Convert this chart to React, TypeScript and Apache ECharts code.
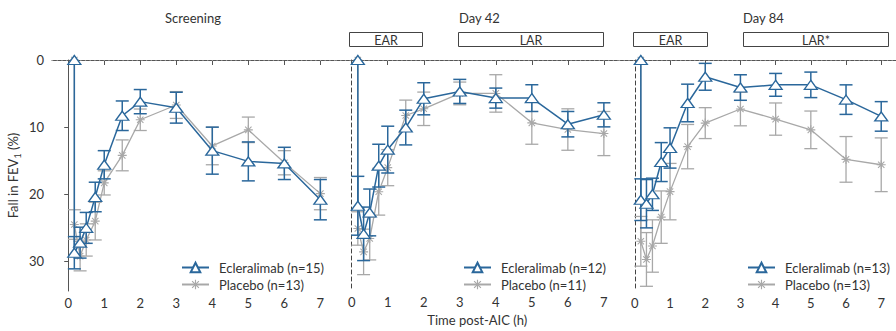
import React, { useEffect, useRef } from 'react';
import * as echarts from 'echarts';

// ---- data ----
const times = [0.17, 0.17, 0.33, 0.5, 0.75, 1, 1.5, 2, 3, 4, 5, 6, 7];
const xTickValues = [0, 1, 2, 3, 4, 5, 6, 7];
const yTickValues = [0, 10, 20, 30];

const panelTitles = ['Screening', 'Day 42', 'Day 84'];
const eclNames = ['Ecleralimab (n=15)', 'Ecleralimab (n=12)', 'Ecleralimab (n=13)'];
const plaNames = ['Placebo (n=13)', 'Placebo (n=11)', 'Placebo (n=13)'];

const eclScreening = [0, 28.7, 27.2, 25.0, 20.4, 15.6, 8.3, 6.2, 7.1, 13.5, 15.1, 15.4, 20.8];
const eclScreeningSE = [null, 2.4, 2.3, 2.3, 2.2, 2.1, 2.2, 1.8, 2.3, 3.5, 2.9, 2.4, 3.0];
const plaScreening = [0, 24.5, 29.2, 26.8, 24.0, 18.3, 14.2, 8.9, 6.7, 12.8, 10.4, 15.3, 19.9];
const plaScreeningSE = [null, 2.2, 2.2, 2.4, 2.8, 1.8, 2.3, 1.6, 2.0, 2.8, 1.9, 1.8, 2.4];

const eclDay42 = [0, 21.8, 26.0, 22.8, 15.8, 13.4, 10.1, 5.8, 4.7, 5.7, 5.7, 9.6, 8.2];
const eclDay42SE = [null, 4.4, 4.0, 3.5, 3.2, 3.5, 2.6, 2.4, 1.8, 1.5, 2.0, 1.9, 1.8];
const plaDay42 = [0, 25.2, 28.7, 26.7, 19.7, 16.1, 8.3, 7.3, 5.0, 5.0, 9.4, 10.4, 11.0];
const plaDay42SE = [null, 2.5, 3.4, 3.2, 3.5, 2.7, 2.3, 2.5, 1.7, 2.8, 3.2, 3.1, 3.3];

const eclDay84 = [0, 20.8, 21.4, 20.0, 15.2, 13.1, 6.4, 2.5, 4.1, 3.7, 3.7, 5.9, 8.4];
const eclDay84SE = [null, 3.1, 3.6, 2.4, 2.9, 3.0, 2.8, 2.0, 1.9, 1.7, 1.9, 2.2, 2.2];
const plaDay84 = [0, 27.0, 29.7, 27.7, 23.4, 19.6, 12.9, 9.4, 7.3, 8.8, 10.4, 14.8, 15.6];
const plaDay84SE = [null, 3.7, 4.0, 3.9, 3.9, 4.2, 3.3, 2.3, 2.5, 2.4, 2.8, 3.4, 4.0];

const phaseLabels = ['EAR', 'LAR', 'EAR', 'LAR*'];

// ---- styling ----
const BLUE = '#2a679b';
const GREY = '#a8a8a8';
const AXIS = '#555';
const TEXT = '#333';
const FONT = 'Lato';

const eclAll = [eclScreening, eclDay42, eclDay84];
const eclSEAll = [eclScreeningSE, eclDay42SE, eclDay84SE];
const plaAll = [plaScreening, plaDay42, plaDay84];
const plaSEAll = [plaScreeningSE, plaDay42SE, plaDay84SE];

const ASTERISK =
  'path://M-0.6,-5L0.6,-5L0.6,5L-0.6,5Z' +
  'M-5,-0.6L5,-0.6L5,0.6L-5,0.6Z' +
  'M-3.12,-3.96L3.96,3.12L3.12,3.96L-3.96,-3.12Z' +
  'M-3.96,3.12L3.12,-3.96L3.96,-3.12L-3.12,3.96Z';

const PANEL_W = 283.5;
const PANEL_LEFT = 52;

function errorSeries(i: number, vals: number[], se: (number | null)[], color: string, width: number, z: number) {
  const data: number[][] = [];
  vals.forEach((v, k) => {
    const e = se[k];
    if (e != null) data.push([times[k], v - e, v + e]);
  });
  return {
    type: 'custom',
    xAxisIndex: i,
    yAxisIndex: i,
    z,
    silent: true,
    encode: { x: 0, y: [1, 2] },
    data,
    renderItem: (_p: any, api: any) => {
      const x = api.value(0);
      const a = api.coord([x, api.value(1)]);
      const b = api.coord([x, api.value(2)]);
      const w = 6.5;
      const style = { stroke: color, lineWidth: width, fill: 'none' };
      return {
        type: 'group',
        children: [
          { type: 'line', shape: { x1: a[0], y1: a[1], x2: b[0], y2: b[1] }, style },
          { type: 'line', shape: { x1: a[0] - w, y1: a[1], x2: a[0] + w, y2: a[1] }, style },
          { type: 'line', shape: { x1: b[0] - w, y1: b[1], x2: b[0] + w, y2: b[1] }, style },
        ],
      };
    },
  };
}

function buildOption() {
  const grid = [0, 1, 2].map((i) => ({
    left: PANEL_LEFT + i * PANEL_W,
    width: PANEL_W,
    top: 60,
    bottom: 40,
  }));

  const xAxis = [0, 1, 2].map((i) => ({
    type: 'value',
    gridIndex: i,
    min: -0.45,
    max: 7.42,
    splitLine: { show: false },
    axisLine: { show: true, lineStyle: { color: AXIS, width: 1 } },
    axisTick: { show: true, customValues: xTickValues, length: 5, lineStyle: { color: AXIS } },
    axisLabel: { customValues: xTickValues, margin: 5, fontSize: 13, color: TEXT, fontFamily: FONT },
    name: i === 1 ? 'Time post-AIC (h)' : '',
    nameLocation: 'middle',
    nameGap: 23,
    nameTextStyle: { fontSize: 13, color: TEXT, fontFamily: FONT },
  }));

  const yAxis = [0, 1, 2].map((i) => ({
    type: 'value',
    gridIndex: i,
    inverse: true,
    min: 0,
    max: 34.4,
    splitLine: { show: false },
    axisLine: {
      show: true,
      lineStyle: { color: i === 0 ? AXIS : '#444', width: 1, type: i === 0 ? 'solid' : [4, 3] },
    },
    axisTick: { show: i === 0, customValues: yTickValues, length: 4, lineStyle: { color: AXIS } },
    axisLabel: {
      show: i === 0,
      customValues: yTickValues,
      margin: 8,
      fontSize: 13,
      color: TEXT,
      fontFamily: FONT,
    },
    name: i === 0 ? '{a|Fall in FEV}{s|1}{a| (%)}' : '',
    nameLocation: 'middle',
    nameGap: 30,
    nameRotate: 90,
    nameTextStyle: {
      color: TEXT,
      fontFamily: FONT,
      fontSize: 13,
      rich: {
        a: { fontSize: 13, color: TEXT, fontFamily: FONT, lineHeight: 18, verticalAlign: 'middle' },
        s: { fontSize: 9, color: TEXT, fontFamily: FONT, lineHeight: 9, verticalAlign: 'bottom' },
      },
    },
  }));

  const series: any[] = [];
  for (let i = 0; i < 3; i++) {
    series.push({
      type: 'line',
      name: plaNames[i],
      xAxisIndex: i,
      yAxisIndex: i,
      data: times.map((t, k) => [t, plaAll[i][k]]),
      symbol: ASTERISK,
      symbolSize: 9,
      clip: false,
      z: 2,
      lineStyle: { color: GREY, width: 1.3 },
      itemStyle: { color: GREY },
      emphasis: { disabled: true },
      markLine: {
        silent: true,
        symbol: 'none',
        label: { show: false },
        lineStyle: { color: '#999', width: 1, type: [1.2, 3.5] },
        data: [{ yAxis: 0 }],
      },
    });
    series.push(errorSeries(i, plaAll[i], plaSEAll[i], GREY, 1.3, 3));
    series.push(errorSeries(i, eclAll[i], eclSEAll[i], BLUE, 1.5, 4));
    series.push({
      type: 'line',
      name: eclNames[i],
      xAxisIndex: i,
      yAxisIndex: i,
      data: times.map((t, k) => [t, eclAll[i][k]]),
      symbol: 'triangle',
      symbolSize: [13, 9],
      clip: false,
      z: 5,
      lineStyle: { color: BLUE, width: 1.5 },
      itemStyle: { color: '#fff', borderColor: BLUE, borderWidth: 1.3 },
      emphasis: { disabled: true },
    });
  }

  const legendLefts = [176, 458, 742];
  const legend = [0, 1, 2].map((i) => ({
    data: [eclNames[i], plaNames[i]],
    left: legendLefts[i],
    top: 256,
    orient: 'vertical',
    itemWidth: 27,
    itemHeight: 12,
    itemGap: 4,
    selectedMode: false,
    textStyle: { fontSize: 13, color: TEXT, fontFamily: FONT, padding: [0, 0, 0, 5] },
  }));

  const boxes = [
    { x: 349.5, w: 73 },
    { x: 458.5, w: 145 },
    { x: 633.5, w: 74 },
    { x: 743.5, w: 145 },
  ];
  const titlePos = [
    { x: 193, align: 'center' },
    { x: 459, align: 'left' },
    { x: 743, align: 'left' },
  ];

  const graphic: any[] = [];
  panelTitles.forEach((t, i) => {
    graphic.push({
      type: 'text',
      x: titlePos[i].x,
      y: 18,
      style: {
        text: t,
        textAlign: titlePos[i].align,
        align: titlePos[i].align,
        textVerticalAlign: 'middle',
        verticalAlign: 'middle',
        fontSize: 13,
        fontFamily: FONT,
        fill: TEXT,
      },
    });
  });
  phaseLabels.forEach((lab, i) => {
    const b = boxes[i];
    graphic.push({
      type: 'rect',
      shape: { x: b.x, y: 32.5, width: b.w, height: 14 },
      style: { fill: '#fff', stroke: '#444', lineWidth: 1 },
    });
    graphic.push({
      type: 'text',
      x: b.x + b.w / 2,
      y: 40,
      style: {
        text: lab,
        textAlign: 'center',
        align: 'center',
        textVerticalAlign: 'middle',
        verticalAlign: 'middle',
        fontSize: 12.5,
        fontFamily: FONT,
        fill: TEXT,
      },
    });
  });

  return {
    animation: false,
    backgroundColor: '#fff',
    textStyle: { fontFamily: FONT },
    grid,
    xAxis,
    yAxis,
    legend,
    series,
    graphic,
  };
}

export default function App() {
  const ref = useRef<HTMLDivElement>(null);
  useEffect(() => {
    document.body.style.margin = '0';
    const chart = echarts.init(ref.current!, null, { renderer: 'svg' });
    chart.setOption(buildOption() as any);
    return () => chart.dispose();
  }, []);
  return (
    <div
      ref={ref}
      style={{ position: 'fixed', left: 0, top: 0, width: 896, height: 331, background: '#fff' }}
    />
  );
}
